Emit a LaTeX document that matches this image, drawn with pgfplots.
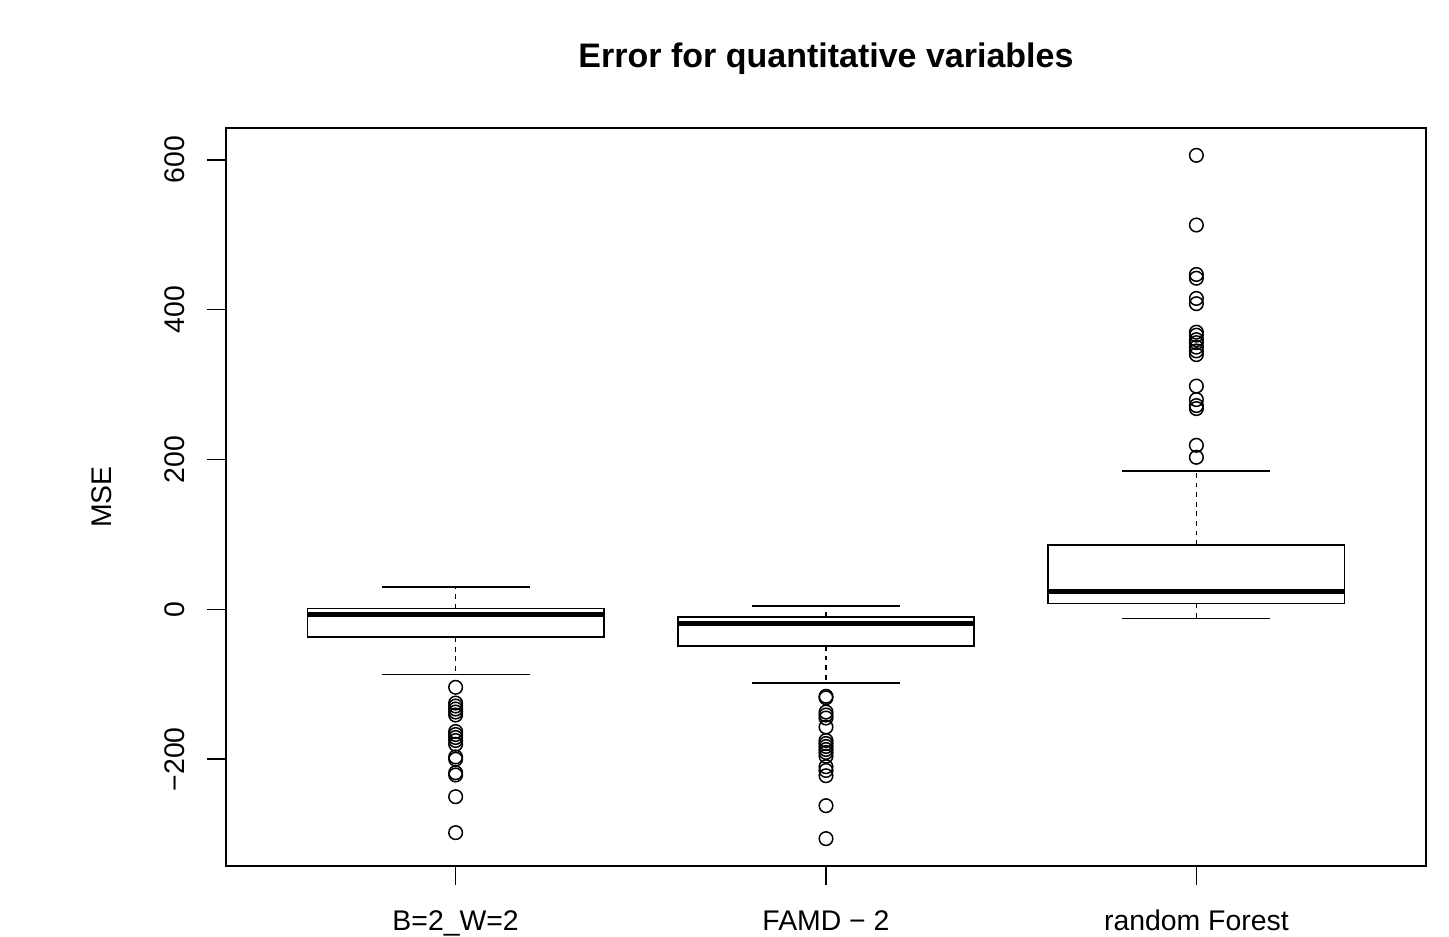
\documentclass[border=0pt]{standalone}
\usepackage{fontspec}
\setmainfont{Liberation Sans}
\usepackage{pgfplots}
\pgfplotsset{compat=1.18}
\usepgfplotslibrary{statistics}
\begin{document}
\begin{tikzpicture}
\begin{axis}[
  scale only axis,
  width=600pt, height=369pt,
  xmin=0.38, xmax=3.62,
  ymin=-342.5, ymax=642.5,
  axis line style={line width=0.75pt},
  tick style={black, line width=0.75pt},
  tick align=outside,
  major tick length=9.5pt,
  xtick pos=left, ytick pos=left,
  xtick={1,2,3},
  xticklabels={B=2\_W=2, FAMD − 2, random Forest},
  ytick={-200,0,200,400,600},
  yticklabels={−200,0,200,400,600},
  tick label style={font=\fontsize{14.2}{17}\selectfont},
  xticklabel style={anchor=north, inner sep=0pt, yshift=-12.5pt},
  yticklabel style={rotate=90, anchor=south, inner sep=0pt, yshift=11pt},
  title={Error for quantitative variables},
  title style={font=\bfseries\fontsize{17}{20}\selectfont, anchor=base, yshift=24pt, inner sep=0pt},
  ylabel={MSE},
  ylabel style={font=\fontsize{14.2}{17}\selectfont, at={(axis description cs:0,0.5)}, anchor=center, yshift=62pt},
  boxplot/draw direction=y,
  boxplot/box extend=0.8,
  boxplot/whisker extend=0.4,
  boxplot/every median/.style={line width=2.5pt},
  boxplot/draw/lower whisker/.code={%
    \draw[dash pattern=on 2.4pt off 2.4pt] (boxplot box cs:\pgfplotsboxplotvalue{lower quartile},0.5) -- (boxplot box cs:\pgfplotsboxplotvalue{lower whisker},0.5);
    \draw (boxplot whisker cs:\pgfplotsboxplotvalue{lower whisker},0) -- (boxplot whisker cs:\pgfplotsboxplotvalue{lower whisker},1);
  },
  boxplot/draw/upper whisker/.code={%
    \draw[dash pattern=on 2.4pt off 2.4pt] (boxplot box cs:\pgfplotsboxplotvalue{upper quartile},0.5) -- (boxplot box cs:\pgfplotsboxplotvalue{upper whisker},0.5);
    \draw (boxplot whisker cs:\pgfplotsboxplotvalue{upper whisker},0) -- (boxplot whisker cs:\pgfplotsboxplotvalue{upper whisker},1);
  },
]
\addplot[black, line width=0.75pt, mark=o, mark size=3.4pt, mark options={solid, black, line width=0.75pt},
  boxplot prepared={draw position=1, lower whisker=-87, lower quartile=-37, median=-7, upper quartile=1, upper whisker=30}]
  table[row sep=\\, y index=0] {v\\ -104\\ -125\\ -129\\ -133\\ -137\\ -141\\ -163\\ -167\\ -171\\ -175\\ -180\\ -197\\ -200\\ -218\\ -221\\ -250\\ -298\\};
\addplot[black, line width=0.75pt, mark=o, mark size=3.4pt, mark options={solid, black, line width=0.75pt},
  boxplot prepared={draw position=2, lower whisker=-98, lower quartile=-49, median=-19, upper quartile=-10, upper whisker=4.5}]
  table[row sep=\\, y index=0] {v\\ -116\\ -118\\ -137\\ -141\\ -145\\ -157\\ -175\\ -179\\ -183\\ -187\\ -191\\ -196\\ -210\\ -215\\ -222\\ -262\\ -306\\};
\addplot[black, line width=0.75pt, mark=o, mark size=3.4pt, mark options={solid, black, line width=0.75pt},
  boxplot prepared={draw position=3, lower whisker=-12, lower quartile=8, median=24, upper quartile=86, upper whisker=185}]
  table[row sep=\\, y index=0] {v\\ 606\\ 513\\ 447\\ 442\\ 415\\ 408\\ 370\\ 366\\ 360\\ 356\\ 350\\ 345\\ 340\\ 298\\ 280\\ 272\\ 268\\ 219\\ 203\\};
\end{axis}
\pgfresetboundingbox
\path ([shift={(-113pt,-35pt)}]current axis.south west) rectangle ([shift={(11.5pt,64pt)}]current axis.north east);
\end{tikzpicture}
\end{document}
